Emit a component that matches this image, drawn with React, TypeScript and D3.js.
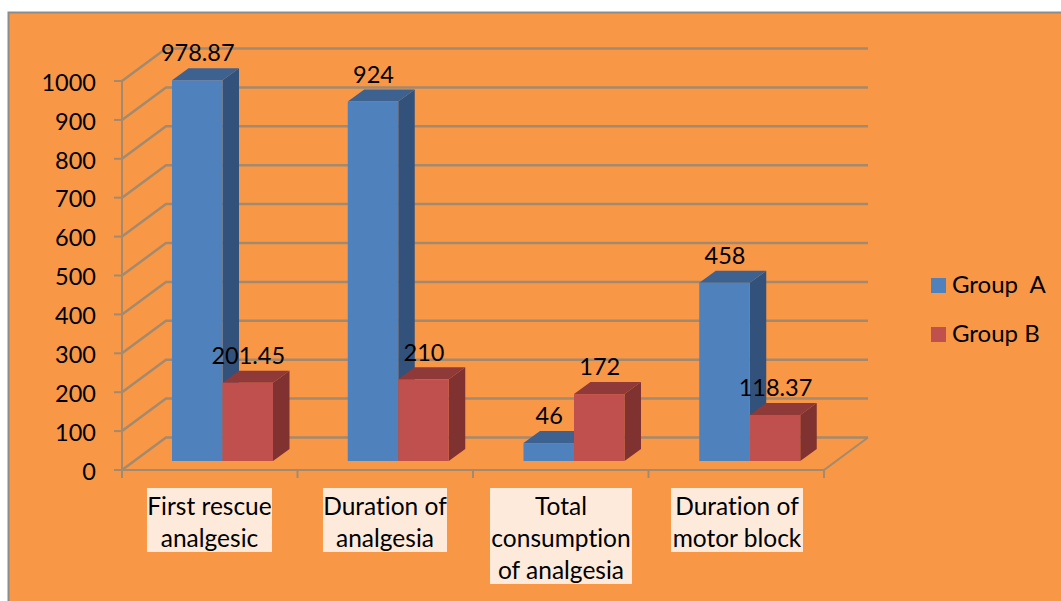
import React from "react";
import * as d3 from "d3";

const categories = ["First rescue analgesic", "Duration of analgesia", "Total consumption of analgesia", "Duration of motor block"];
const categoryLines = [["First rescue", "analgesic"], ["Duration of", "analgesia"], ["Total", "consumption", "of analgesia"], ["Duration of", "motor block"]];
const groupA = [978.87, 924, 46, 458];
const groupB = [201.45, 210, 172, 118.37];
const groupNames = ["Group  A", "Group B"];
const groupKeys = ["a", "b"];
const ticks = [0, 100, 200, 300, 400, 500, 600, 700, 800, 900, 1000];
const labelBoxes = [[147, 272], [323, 447], [490, 632], [671, 803]];

const FONT = "Lato, Carlito, sans-serif";
const GRID = "#a38a6e";
const palette = {
  a: { front: "#4f81bd", top: "#3e6290", side: "#33527b" },
  b: { front: "#c0504d", top: "#8f3a38", side: "#7f3230" },
};

// Oblique offset of the back wall, and of a bar's depth
const wallDx = 44;
const wallDy = -32.5;
const barDx = 16.5;
const barDy = -12;
const barBaseLift = 9;

const y = d3.scaleLinear().domain([0, 1000]).range([470, 81]);
const x = d3.scaleBand<string>().domain(categories).range([122, 825]);
const inner = d3.scaleBand<string>().domain(groupKeys).range([50, 151]);
const axisTicksX = [122, 297.5, 473, 648.5, 824];

const textStyle: React.CSSProperties = { fontVariantLigatures: "none", whiteSpace: "pre" };

function Bar({ left, width, value, colors }: { left: number; width: number; value: number; colors: { front: string; top: string; side: string } }) {
  const bottom = y(0) - barBaseLift;
  const top = bottom - (y(0) - y(value));
  const right = left + width;
  const topFace = d3.path();
  topFace.moveTo(left, top);
  topFace.lineTo(left + barDx, top + barDy);
  topFace.lineTo(right + barDx, top + barDy);
  topFace.lineTo(right, top);
  topFace.closePath();
  const sideFace = d3.path();
  sideFace.moveTo(right, top);
  sideFace.lineTo(right + barDx, top + barDy);
  sideFace.lineTo(right + barDx, bottom + barDy);
  sideFace.lineTo(right, bottom);
  sideFace.closePath();
  return (
    <g>
      <path d={sideFace.toString()} fill={colors.side} />
      <path d={topFace.toString()} fill={colors.top} />
      <rect x={left} y={top} width={width} height={bottom - top} fill={colors.front} />
    </g>
  );
}

export default function App() {
  const wallLine = d3.line<[number, number]>();
  const barWidth = inner.bandwidth();
  const bottom = y(0) - barBaseLift;
  return (
    <svg width={1061} height={601} style={{ position: "fixed", left: 0, top: 0, background: "#fff" }} fontFamily={FONT}>
      <rect x={8.5} y={12.5} width={1070} height={600} fill="#f89746" stroke="#8c8c8c" strokeWidth={2} />

      {/* back wall gridlines, with the slanted run on the side wall */}
      {ticks.map((t) => (
        <path
          key={t}
          d={wallLine([[122, y(t)], [122 + wallDx, y(t) + wallDy], [868, y(t) + wallDy]]) ?? ""}
          fill="none"
          stroke={GRID}
          strokeWidth={2.5}
        />
      ))}

      {/* floor edges and axes */}
      <path d={wallLine([[122, y(0)], [824, y(0)], [868, y(0) + wallDy]]) ?? ""} fill="none" stroke={GRID} strokeWidth={2} />
      <line x1={122} x2={122} y1={y(1000)} y2={y(0)} stroke={GRID} strokeWidth={2} />
      {ticks.map((t) => (
        <line key={t} x1={114} x2={122} y1={y(t)} y2={y(t)} stroke={GRID} strokeWidth={2} />
      ))}
      {axisTicksX.map((px) => (
        <line key={px} x1={px} x2={px} y1={y(0)} y2={y(0) + 8} stroke={GRID} strokeWidth={2} />
      ))}
      {ticks.map((t) => (
        <text key={t} x={96} y={y(t) + 1.5} dy="0.35em" textAnchor="end" fontSize={23.5} fill="#000" style={textStyle}>{t}</text>
      ))}

      {/* bars, Group A then Group B in each category */}
      {categories.map((c, i) => (
        <g key={c}>
          <Bar left={(x(c) as number) + (inner("a") as number)} width={barWidth} value={groupA[i]} colors={palette.a} />
          <Bar left={(x(c) as number) + (inner("b") as number)} width={barWidth} value={groupB[i]} colors={palette.b} />
        </g>
      ))}

      {/* value labels */}
      {categories.map((c, i) => (
        <g key={c} fontSize={23.5} fill="#000" textAnchor="middle" style={textStyle}>
          <text x={(x(c) as number) + (inner("a") as number) + barWidth / 2 + 0.5} y={bottom - (y(0) - y(groupA[i])) - 27} dy="0.35em">{groupA[i]}</text>
          <text x={(x(c) as number) + (inner("b") as number) + barWidth / 2 + 0.5} y={bottom - (y(0) - y(groupB[i])) - 27} dy="0.35em">{groupB[i]}</text>
        </g>
      ))}

      {/* category labels on pale boxes */}
      {categories.map((c, i) => (
        <g key={c}>
          <rect x={labelBoxes[i][0]} y={488} width={labelBoxes[i][1] - labelBoxes[i][0]} height={categoryLines[i].length * 32} fill="#fdeadb" />
          {categoryLines[i].map((line, j) => (
            <text key={j} x={(labelBoxes[i][0] + labelBoxes[i][1]) / 2} y={506 + j * 32} dy="0.35em" textAnchor="middle" fontSize={24.5} fill="#000" style={textStyle}>{line}</text>
          ))}
        </g>
      ))}

      {/* legend */}
      {groupNames.map((name, i) => (
        <g key={name}>
          <rect x={931} y={278 + i * 49} width={15} height={15} fill={i === 0 ? palette.a.front : palette.b.front} />
          <text x={952} y={285 + i * 49} dy="0.35em" fontSize={24} fill="#000" style={textStyle}>{name}</text>
        </g>
      ))}
    </svg>
  );
}
